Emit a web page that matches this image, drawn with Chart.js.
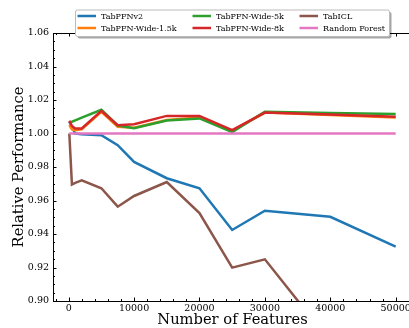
<!DOCTYPE html>
<html>
<head>
<meta charset="utf-8">
<script src="https://cdn.jsdelivr.net/npm/chart.js@4.4.0/dist/chart.umd.min.js"></script>
<style>
  html, body { margin: 0; padding: 0; background: #fff; overflow: hidden; }
  #wrap { width: 440px; height: 328px; }
</style>
</head>
<body>
<div id="wrap"><canvas id="perf" width="440" height="328"></canvas></div>
<script>
// number of features on the x axis
const features = [100, 500, 1000, 2000, 5000, 7500, 10000, 15000, 20000, 25000, 30000, 40000, 50000];

// relative performance
const tabpfnV2   = [1.007, 1.004, 1.000, 0.9995, 0.999, 0.993, 0.983, 0.9733, 0.9673, 0.9424, 0.9539, 0.9503, 0.9324];
const wide15k    = [1.005, 1.0025, 1.002, 1.0025, 1.013, 1.004, 1.0035, 1.008, 1.0095, 1.0015, 1.0125, 1.011, 1.0095];
const wide5k     = [1.0068, 1.007, 1.0078, 1.0095, 1.0142, 1.0048, 1.0031, 1.0078, 1.009, 1.0008, 1.013, 1.0123, 1.0116];
const wide8k     = [1.0075, 1.0045, 1.003, 1.003, 1.0135, 1.005, 1.0055, 1.0105, 1.0105, 1.002, 1.0125, 1.0113, 1.0100];
const tabICL     = [1.000, 0.9695, 0.9705, 0.972, 0.9673, 0.9563, 0.9627, 0.971, 0.9525, 0.9199, 0.9249, 0.8758, 0.86];
const randForest = [1, 1, 1, 1, 1, 1, 1, 1, 1, 1, 1, 1, 1];

const seriesNames  = ['TabPFNv2', 'TabPFN-Wide-1.5k', 'TabPFN-Wide-5k', 'TabPFN-Wide-8k', 'TabICL', 'Random Forest'];
const seriesColors = ['#1f77b4', '#ff7f0e', '#2ca02c', '#d62728', '#8c564b', '#e377c2'];
const seriesValues = [tabpfnV2, wide15k, wide5k, wide8k, tabICL, randForest];

const xTicks = [0, 10000, 20000, 30000, 40000, 50000];
const yTicks = [0.90, 0.92, 0.94, 0.96, 0.98, 1.00, 1.02, 1.04, 1.06];

const serif = "'DejaVu Serif', serif";

// box and inward ticks, like matplotlib
const frameTicks = {
  id: 'frameTicks',
  afterDatasetsDraw(chart) {
    const { ctx, chartArea: a, scales: { x, y } } = chart;
    ctx.save();
    ctx.strokeStyle = '#000';
    ctx.lineWidth = 1;
    ctx.strokeRect(a.left + 0.5, a.top + 0.5, a.right - a.left, a.bottom - a.top);
    ctx.beginPath();
    for (let v = -2000; v <= 52000; v += 2000) {
      const px = Math.round(x.getPixelForValue(v)) + 0.5;
      if (px < a.left || px > a.right) continue;
      const len = v % 10000 === 0 ? 3.5 : 2;
      ctx.moveTo(px, a.bottom); ctx.lineTo(px, a.bottom - len);
      ctx.moveTo(px, a.top); ctx.lineTo(px, a.top + len);
    }
    for (let i = 0; i <= 32; i++) {
      const py = Math.round(y.getPixelForValue(0.90 + i * 0.005)) + 0.5;
      const len = i % 4 === 0 ? 3.5 : 2;
      ctx.moveTo(a.left, py); ctx.lineTo(a.left + len, py);
    }
    ctx.stroke();
    ctx.restore();
  }
};

// legend box in matplotlib style (3 columns, filled column by column)
const boxLegend = {
  id: 'boxLegend',
  afterDraw(chart) {
    const { ctx } = chart;
    const bx = 75, by = 9.5, bw = 314, bh = 26.5;
    ctx.save();
    ctx.fillStyle = 'rgba(0,0,0,0.35)';
    ctx.beginPath(); ctx.roundRect(bx + 2.5, by + 2.5, bw, bh, 2); ctx.fill();
    ctx.fillStyle = '#fff';
    ctx.strokeStyle = '#bbbbbb';
    ctx.lineWidth = 1;
    ctx.beginPath(); ctx.roundRect(bx + 0.5, by + 0.5, bw, bh, 2); ctx.fill(); ctx.stroke();
    const colX = [77.5, 192.5, 299.5];
    const rowY = [16, 28];
    ctx.font = '8px ' + serif;
    ctx.textBaseline = 'middle';
    chart.data.datasets.forEach((ds, i) => {
      const cx = colX[Math.floor(i / 2)], cy = rowY[i % 2];
      ctx.strokeStyle = ds.borderColor;
      ctx.lineWidth = 2.5;
      ctx.beginPath(); ctx.moveTo(cx, cy); ctx.lineTo(cx + 18.5, cy); ctx.stroke();
      ctx.fillStyle = '#000';
      ctx.fillText(ds.label, cx + 23.5, cy + 0.5);
    });
    ctx.restore();
  }
};

new Chart(document.getElementById('perf'), {
  type: 'line',
  data: {
    datasets: seriesNames.map((name, i) => ({
      label: name,
      data: features.map((f, j) => ({ x: f, y: seriesValues[i][j] })),
      borderColor: seriesColors[i],
      backgroundColor: seriesColors[i],
      borderWidth: 2.5,
      pointRadius: 0,
      tension: 0,
      fill: false,
      order: seriesNames.length - i
    }))
  },
  options: {
    responsive: false,
    devicePixelRatio: 1,
    animation: false,
    layout: { padding: { top: 33, right: 28, left: 0, bottom: 0 } },
    plugins: { legend: { display: false }, tooltip: { enabled: false } },
    scales: {
      x: {
        type: 'linear',
        min: -2395,
        max: 52495,
        afterBuildTicks: s => { s.ticks = xTicks.map(v => ({ value: v })); },
        afterFit: s => { s.height = 27; },
        grid: { display: false, drawTicks: false },
        border: { display: false },
        ticks: { color: '#000', font: { family: serif, size: 9.5 }, padding: 2, maxRotation: 0,
                 callback: v => String(v) },
        title: { display: true, text: 'Number of Features', color: '#000',
                 font: { family: serif, size: 14.7, lineHeight: 1.0 }, padding: { top: 0, bottom: 0 } }
      },
      y: {
        min: 0.90,
        max: 1.06,
        afterBuildTicks: s => { s.ticks = yTicks.map(v => ({ value: v })); },
        afterFit: s => { s.width = 53; },
        grid: { display: false, drawTicks: false },
        border: { display: false },
        ticks: { color: '#000', font: { family: serif, size: 9.5 }, padding: 4,
                 callback: v => v.toFixed(2) },
        title: { display: true, text: 'Relative Performance', color: '#000',
                 font: { family: serif, size: 14.7 }, padding: { top: 10, bottom: 0 } }
      }
    }
  },
  plugins: [frameTicks, boxLegend]
});
</script>
</body>
</html>
